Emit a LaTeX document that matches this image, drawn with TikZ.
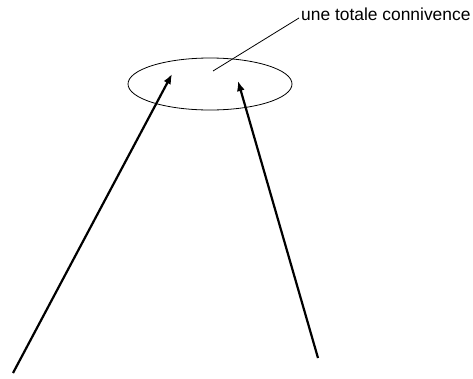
\documentclass[tikz,border=0pt]{standalone}
\usepackage{fontspec}
\setmainfont{Liberation Sans}
\usetikzlibrary{arrows.meta}
\begin{document}
\begin{tikzpicture}[x=1pt,y=-1pt,
  arr/.style={line width=2.2pt,-{Latex[length=10pt,width=8pt]}},
  thin/.style={line width=0.8pt}]
\useasboundingbox (0,0) rectangle (473,378);
\draw[thin] (210,84) ellipse [x radius=82, y radius=26];
\node[anchor=west,inner sep=0pt,font=\fontsize{17.4}{19}\selectfont] (lbl) at (301,14) {une totale connivence};
\coordinate (lstart) at (299,18);
\coordinate (lend) at (213,71);
\draw[thin] (lstart) -- (lend);
\coordinate (a1) at (13,373);
\coordinate (t1) at (172,74);
\coordinate (a2) at (318,358);
\coordinate (t2) at (238,81);
\draw[arr] (a1) -- (t1);
\draw[arr] (a2) -- (t2);
\end{tikzpicture}
\end{document}
